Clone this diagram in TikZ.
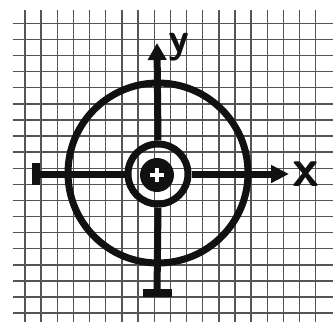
\documentclass[tikz,border=0pt]{standalone}
\usepackage{tikz}
\usetikzlibrary{arrows.meta, positioning}
\definecolor{gridgray}{RGB}{85,85,85}
\definecolor{ink}{RGB}{17,17,17}

\begin{document}
\begin{tikzpicture}[
  x=1pt, y=-1pt,
  gridline/.style={gridgray, line width=1.4pt},
  axis/.style={ink, line width=7pt},
  tbar/.style={ink, line width=8pt},
  ring/.style={circle, draw=ink, line width=7pt, inner sep=0pt},
  hubdot/.style={circle, fill=ink, inner sep=0pt, minimum size=34pt},
  lbl/.style={ink, inner sep=0pt},
]
  \useasboundingbox (0,0) rectangle (333,322);

  % graph paper
  \foreach \i in {0,...,18} {
    \draw[gridline] (25+\i*16.15, 10) -- (25+\i*16.15, 322);
    \draw[gridline] (12.7, 23.3+\i*16.1) -- (333, 23.3+\i*16.1);
  }

  \node[ring, minimum size=180pt] (rim) at (158,173) {};
  \node[ring, minimum size=60pt] (ring) at (158,174) {};
  \node[hubdot] (hub) at (157,175) {};
  \draw[white, line width=3.5pt] (hub.center) ++(-7,0) -- ++(14,0);
  \draw[white, line width=3.5pt] (hub.center) ++(0,-7) -- ++(0,14);

  \coordinate (xl) at (36,174);
  \coordinate (xr) at (289,174);
  \coordinate (yb) at (157,293);
  \coordinate (yt) at (157,43);

  \draw[axis] (xl) -- (ring.west);
  \draw[axis, -{Triangle[length=18pt, width=17pt]}] (ring.east) -- (xr);
  \draw[axis] (yb) -- (ring.south);
  \draw[axis, -{Triangle[length=17pt, width=18pt]}] (ring.north) -- (yt);
  % end bars
  \draw[tbar] (xl) ++(0,-11) -- ++(0,22);
  \draw[tbar] (yb) ++(-14.5,0) -- ++(29,0);

  \node[lbl, font=\sffamily\bfseries\fontsize{54}{54}\selectfont, right=3pt of xr] (xlabel) {x};
  \node[lbl, font=\sffamily\bfseries\fontsize{42}{42}\selectfont] (ylabel) at (179,47) {y};
\end{tikzpicture}
\end{document}
